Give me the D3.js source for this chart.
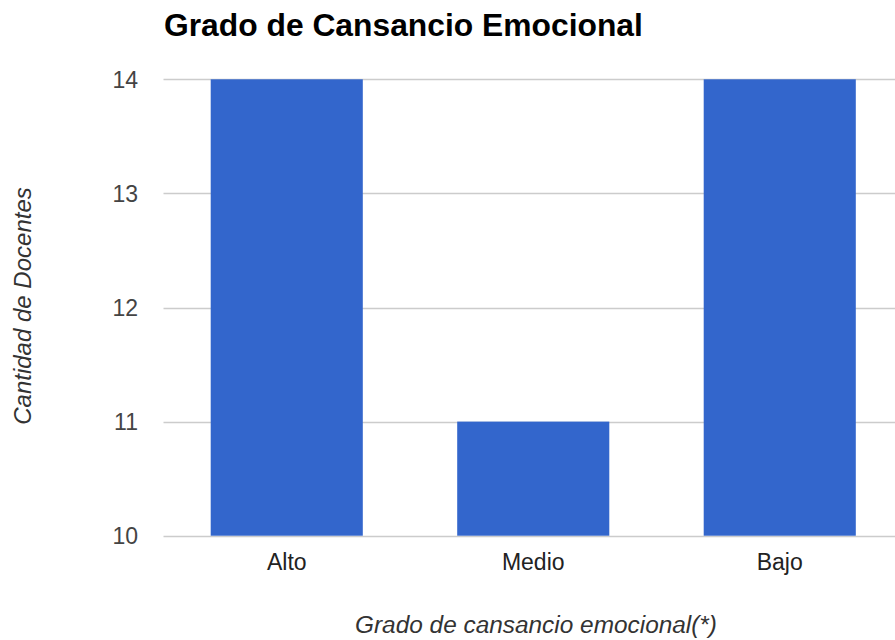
<!DOCTYPE html>
<html>
<head>
<meta charset="utf-8">
<script src="https://cdn.jsdelivr.net/npm/d3@7"></script>
<style>
  html, body { margin: 0; padding: 0; background: #fff; }
  svg { display: block; font-family: Arial, "Liberation Sans", sans-serif; }
</style>
</head>
<body>
<svg id="chart" width="895" height="640"></svg>
<script>
// Número de docentes por grado de cansancio emocional
const categories = ["Alto", "Medio", "Bajo"];
const values = [14, 11, 14];
const yTicks = [10, 11, 12, 13, 14];

const title = "Grado de Cansancio Emocional";
const xTitle = "Grado de cansancio emocional(*)";
const yTitle = "Cantidad de Docentes";

const svg = d3.select("#chart");
const W = 895, H = 640;

// plot area (runs past the right edge of the canvas)
const plot = { left: 163.5, right: 903, top: 79.3, bottom: 535.7 };

const x = d3.scaleBand()
  .domain(categories)
  .range([plot.left, plot.right])
  .paddingInner(0.383)
  .paddingOuter(0.1915);

const y = d3.scaleLinear()
  .domain([10, 14])
  .range([plot.bottom, plot.top]);

// gridlines
svg.append("g")
  .selectAll("line")
  .data(yTicks)
  .join("line")
  .attr("x1", plot.left)
  .attr("x2", W)
  .attr("y1", d => Math.round(y(d)) + 0.5)
  .attr("y2", d => Math.round(y(d)) + 0.5)
  .attr("stroke", "#cccccc")
  .attr("stroke-width", 1.3);

// bars
svg.append("g")
  .selectAll("rect")
  .data(values)
  .join("rect")
  .attr("x", (d, i) => x(categories[i]))
  .attr("width", x.bandwidth())
  .attr("y", d => y(d))
  .attr("height", d => y(10) - y(d))
  .attr("fill", "#3366cc");

// y-axis tick labels
const yAxis = d3.axisLeft(y).tickValues(yTicks).tickFormat(d3.format("d")).tickSize(0).tickPadding(0);
const gy = svg.append("g")
  .attr("transform", `translate(138,0)`)
  .call(yAxis);
gy.select(".domain").remove();
gy.selectAll("text")
  .attr("font-size", 23)
  .attr("font-family", "Arial, 'Liberation Sans', sans-serif")
  .attr("fill", "#444444")
  .attr("dy", "0.35em");

// x-axis category labels
const xAxis = d3.axisBottom(x).tickSize(0).tickPadding(0);
const gx = svg.append("g")
  .attr("transform", `translate(0,${plot.bottom})`)
  .call(xAxis);
gx.select(".domain").remove();
gx.selectAll("text")
  .attr("font-size", 23)
  .attr("font-family", "Arial, 'Liberation Sans', sans-serif")
  .attr("fill", "#222222")
  .attr("y", 34)
  .attr("dy", 0);

// chart title
svg.append("text")
  .attr("x", 164)
  .attr("y", 36)
  .attr("font-size", 31.8)
  .attr("font-weight", "bold")
  .attr("fill", "#000")
  .text(title);

// x-axis title
svg.append("text")
  .attr("x", 536)
  .attr("y", 633)
  .attr("text-anchor", "middle")
  .attr("font-size", 24.4)
  .attr("font-style", "italic")
  .attr("fill", "#333333")
  .text(xTitle);

// y-axis title
svg.append("text")
  .attr("transform", `translate(31,306) rotate(-90)`)
  .attr("text-anchor", "middle")
  .attr("font-size", 24)
  .attr("font-style", "italic")
  .attr("fill", "#333333")
  .text(yTitle);
</script>
</body>
</html>
